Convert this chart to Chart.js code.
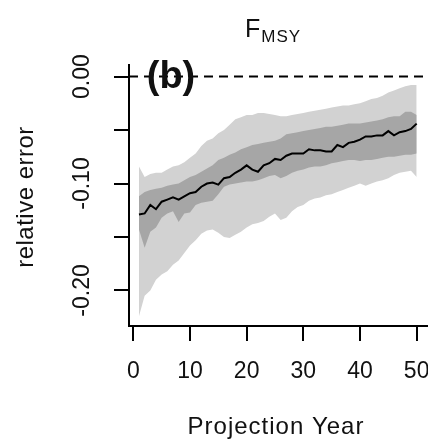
<!DOCTYPE html>
<html>
<head>
<meta charset="utf-8">
<title>F MSY relative error</title>
<script src="https://cdn.jsdelivr.net/npm/chart.js@4"></script>
<style>
  html, body { margin: 0; padding: 0; background: #fff; }
  #wrap { position: relative; width: 428px; height: 442px; }
</style>
</head>
<body>
<div id="wrap"><canvas id="chart"></canvas></div>
<script>
"use strict"

// projection years 1..50
const years = [1,2,3,4,5,6,7,8,9,10,11,12,13,14,15,16,17,18,19,20,21,22,23,24,25,
  26,27,28,29,30,31,32,33,34,35,36,37,38,39,40,41,42,43,44,45,46,47,48,49,50]

const median = [-0.129,-0.128,-0.120,-0.124,-0.117,-0.115,-0.113,-0.115,-0.112,-0.109,
  -0.108,-0.103,-0.100,-0.099,-0.101,-0.095,-0.094,-0.090,-0.087,-0.083,
  -0.087,-0.089,-0.083,-0.081,-0.077,-0.078,-0.074,-0.072,-0.072,-0.072,
  -0.068,-0.069,-0.069,-0.070,-0.070,-0.064,-0.066,-0.062,-0.061,-0.059,
  -0.056,-0.056,-0.055,-0.055,-0.051,-0.055,-0.052,-0.051,-0.049,-0.044]

// inner band (dark grey)
const innerUpper = [-0.112,-0.108,-0.106,-0.105,-0.104,-0.102,-0.101,-0.100,-0.097,-0.094,
  -0.092,-0.089,-0.086,-0.083,-0.078,-0.076,-0.073,-0.071,-0.068,-0.066,
  -0.064,-0.063,-0.062,-0.061,-0.060,-0.058,-0.054,-0.053,-0.052,-0.051,
  -0.050,-0.049,-0.048,-0.047,-0.047,-0.046,-0.045,-0.044,-0.044,-0.044,
  -0.043,-0.042,-0.041,-0.040,-0.038,-0.037,-0.037,-0.033,-0.033,-0.036]
const innerLower = [-0.143,-0.160,-0.145,-0.141,-0.132,-0.128,-0.126,-0.136,-0.128,-0.127,
  -0.120,-0.118,-0.117,-0.116,-0.110,-0.103,-0.101,-0.100,-0.099,-0.098,
  -0.098,-0.097,-0.095,-0.093,-0.092,-0.095,-0.093,-0.090,-0.088,-0.087,
  -0.085,-0.084,-0.084,-0.083,-0.081,-0.080,-0.079,-0.078,-0.078,-0.079,
  -0.078,-0.078,-0.077,-0.076,-0.075,-0.075,-0.074,-0.073,-0.073,-0.072]

// outer band (light grey)
const outerUpper = [-0.084,-0.094,-0.091,-0.090,-0.090,-0.087,-0.084,-0.083,-0.080,-0.076,
  -0.072,-0.065,-0.060,-0.058,-0.053,-0.050,-0.045,-0.040,-0.038,-0.036,
  -0.036,-0.034,-0.034,-0.035,-0.036,-0.037,-0.037,-0.036,-0.035,-0.034,
  -0.033,-0.032,-0.031,-0.030,-0.029,-0.028,-0.027,-0.027,-0.026,-0.025,
  -0.023,-0.021,-0.020,-0.018,-0.015,-0.013,-0.011,-0.009,-0.008,-0.008]
const outerLower = [-0.224,-0.205,-0.200,-0.190,-0.185,-0.182,-0.176,-0.172,-0.165,-0.158,
  -0.153,-0.147,-0.144,-0.143,-0.146,-0.150,-0.151,-0.148,-0.145,-0.141,
  -0.138,-0.137,-0.135,-0.131,-0.128,-0.134,-0.132,-0.126,-0.122,-0.120,
  -0.116,-0.114,-0.113,-0.111,-0.110,-0.108,-0.106,-0.104,-0.102,-0.100,
  -0.102,-0.100,-0.098,-0.097,-0.095,-0.092,-0.090,-0.089,-0.088,-0.094]

const xTicks = [0, 10, 20, 30, 40, 50]
const xTickLabels = ["0", "10", "20", "30", "40", "50"]
const yTicks = [0, -0.05, -0.10, -0.15, -0.20]
const yTickLabels = ["0.00", "-0.10", "-0.20"]
const yLabelled = [0, -0.10, -0.20]
const refLine = 0

const xMin = -0.76, xMax = 52.0
const yMin = -0.2332, yMax = 0.0108

const FONT = "'Liberation Sans', Arial, sans-serif"
const lightGrey = "#d2d2d2"
const darkGrey = "#a6a6a6"

function pts(vals){
  return years.map((yr, i) => ({x: yr, y: vals[i]}))
}

// text the axes can't do themselves: title with subscript, panel letter, rotated labels
const textPlugin = {
  id: "textBits",
  afterDraw(chart){
    const ctx = chart.ctx
    const xs = chart.scales.x
    const ys = chart.scales.y
    ctx.save()
    ctx.fillStyle = "#111"

    // title F_MSY
    ctx.textAlign = "left"
    ctx.textBaseline = "alphabetic"
    ctx.font = "25px " + FONT
    ctx.fillText("F", 245, 37)
    const fw = ctx.measureText("F").width
    ctx.font = "17px " + FONT
    ctx.letterSpacing = "1px"
    ctx.fillText("MSY", 245 + fw + 1, 42)
    ctx.letterSpacing = "0px"

    // panel letter
    ctx.font = "bold 38px " + FONT
    ctx.textAlign = "center"
    ctx.textBaseline = "middle"
    ctx.fillText("(b)", 171, 78)

    // x tick labels
    ctx.font = "23px " + FONT
    for (let i = 0; i < xTicks.length; i++){
      ctx.fillText(xTickLabels[i], xs.getPixelForValue(xTicks[i]), 372)
    }

    // y tick labels, read bottom to top
    for (let i = 0; i < yLabelled.length; i++){
      const py = ys.getPixelForValue(yLabelled[i])
      ctx.save()
      ctx.translate(83, py)
      ctx.rotate(-Math.PI / 2)
      ctx.fillText(yTickLabels[i], 0, 0)
      ctx.restore()
    }

    // axis titles
    ctx.font = "24px " + FONT
    ctx.letterSpacing = "0.5px"
    ctx.save()
    ctx.translate(26, 197)
    ctx.rotate(-Math.PI / 2)
    ctx.fillText("relative error", 0, 0)
    ctx.restore()
    ctx.letterSpacing = "1px"
    ctx.fillText("Projection Year", 276, 427)
    ctx.restore()
  }
}

const data = {
  datasets: [
    {
      label: "median",
      data: pts(median),
      borderColor: "#000",
      borderWidth: 2,
      pointRadius: 0,
      fill: false,
    },
    {
      label: "zero",
      data: [{x: xMin, y: refLine}, {x: xMax, y: refLine}],
      borderColor: "#000",
      borderWidth: 2,
      borderDash: [9, 6],
      pointRadius: 0,
      fill: false,
    },
    {
      label: "inner upper",
      data: pts(innerUpper),
      borderWidth: 0,
      pointRadius: 0,
      backgroundColor: darkGrey,
      fill: "+1",
    },
    {
      label: "inner lower",
      data: pts(innerLower),
      borderWidth: 0,
      pointRadius: 0,
      fill: false,
    },
    {
      label: "outer upper",
      data: pts(outerUpper),
      borderWidth: 0,
      pointRadius: 0,
      backgroundColor: lightGrey,
      fill: "+1",
    },
    {
      label: "outer lower",
      data: pts(outerLower),
      borderWidth: 0,
      pointRadius: 0,
      fill: false,
    },
  ]
}

const config = {
  type: "line",
  data: data,
  plugins: [textPlugin],
  options: {
    responsive: false,
    animation: false,
    events: [],
    layout: { padding: { top: 65, right: 0, left: 0, bottom: 0 } },
    plugins: {
      legend: { display: false },
      tooltip: { enabled: false },
    },
    scales: {
      x: {
        type: "linear",
        min: xMin,
        max: xMax,
        afterBuildTicks: s => { s.ticks = xTicks.map(v => ({value: v})) },
        afterFit: s => { s.height = 116 },
        border: { color: "#000", width: 2 },
        grid: { drawOnChartArea: false, drawTicks: true, tickLength: 15, color: "#000", lineWidth: 2 },
        ticks: { display: false },
      },
      y: {
        type: "linear",
        min: yMin,
        max: yMax,
        afterBuildTicks: s => { s.ticks = yTicks.map(v => ({value: v})) },
        afterFit: s => { s.width = 129 },
        border: { color: "#000", width: 2 },
        grid: { drawOnChartArea: false, drawTicks: true, tickLength: 15, color: "#000", lineWidth: 2 },
        ticks: { display: false },
      },
    },
  },
}

const canvas = document.getElementById("chart")
canvas.width = 428
canvas.height = 442
const chart = new Chart(canvas, config)
</script>
</body>
</html>
